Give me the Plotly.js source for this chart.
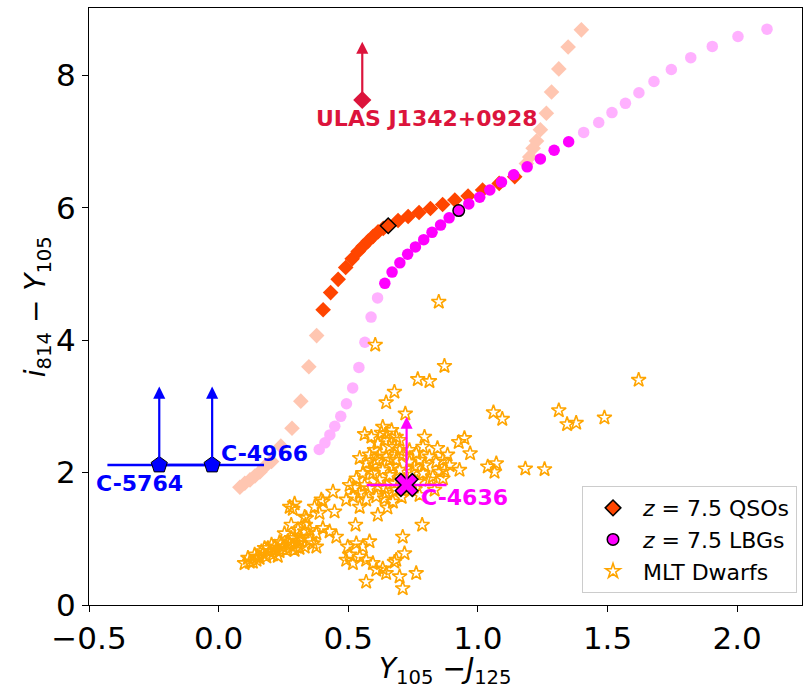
<!DOCTYPE html>
<html>
<head>
<meta charset="utf-8">
<script src="https://cdn.plot.ly/plotly-3.0.1.min.js"></script>
<style>html,body{margin:0;padding:0;background:#fff;}#plot{width:803px;height:694px;}</style>
</head>
<body>
<div id="plot"></div>
<script>
// z=7.5 QSO colour track (faded low-z part, solid part, faded high-z part)
const qsoLowX = [0.082,0.101,0.121,0.140,0.159,0.178,0.204,0.240,0.283,0.317,0.348,0.378];
const qsoLowY = [1.78,1.84,1.89,1.95,2.01,2.09,2.17,2.40,2.67,3.08,3.60,4.07];
const qsoMidX = [0.403,0.432,0.461,0.490,0.515,0.538,0.557,0.577,0.596,0.615,0.635,0.692,0.731,0.773,0.817,0.864,0.911,0.962,1.018,1.082,1.142];
const qsoMidY = [4.46,4.72,4.92,5.10,5.23,5.34,5.42,5.50,5.57,5.64,5.69,5.81,5.87,5.93,5.99,6.05,6.12,6.18,6.27,6.37,6.47];
const qsoHighX = [1.187,1.200,1.213,1.226,1.241,1.264,1.284,1.312,1.348,1.399];
const qsoHighY = [6.67,6.77,6.90,7.01,7.18,7.43,7.75,8.10,8.43,8.69];
const qsoRefX = [0.654], qsoRefY = [5.73];

// z=7.5 LBG colour track
const lbgLowX = [0.388,0.410,0.429,0.448,0.471,0.493,0.517,0.541,0.564,0.588,0.613];
const lbgLowY = [2.35,2.45,2.57,2.70,2.85,3.04,3.28,3.59,3.97,4.35,4.64];
const lbgMidX = [0.641,0.669,0.699,0.729,0.759,0.791,0.823,0.856,0.889,0.965,1.007,1.046,1.091,1.138,1.190,1.241,1.294,1.350];
const lbgMidY = [4.86,5.03,5.17,5.30,5.41,5.52,5.63,5.74,5.85,6.06,6.16,6.27,6.39,6.50,6.62,6.74,6.87,7.00];
const lbgHighX = [1.408,1.466,1.517,1.569,1.621,1.679,1.746,1.821,1.904,2.003,2.115];
const lbgHighY = [7.14,7.29,7.44,7.58,7.74,7.91,8.09,8.27,8.44,8.59,8.70];
const lbgRefX = [0.926], lbgRefY = [5.96];

// MLT dwarfs
const starX = [0.849,0.604,0.871,0.768,0.813,0.678,0.646,0.720,1.060,1.094,1.312,1.344,1.379,1.488,1.620,0.794,0.948,0.926,0.970,0.883,
0.929,1.038,1.071,1.064,1.183,1.257,0.563,0.589,0.633,0.646,0.685,0.614,0.659,0.698,0.569,0.608,0.556,0.531,0.595,0.633,
0.672,0.646,0.685,0.710,0.736,0.762,0.788,0.813,0.839,0.865,0.891,0.852,0.826,0.788,0.756,0.813,0.865,0.492,0.518,0.544,
0.582,0.614,0.569,0.608,0.646,0.672,0.640,0.685,0.544,0.441,0.402,0.370,0.293,0.286,0.601,0.640,0.667,0.698,0.621,0.659,
0.582,0.544,0.582,0.621,0.659,0.698,0.717,0.678,0.640,0.563,0.524,0.736,0.775,0.794,0.744,0.767,0.736,0.706,0.651,0.601,
0.678,0.628,0.844,0.871,0.833,0.775,0.505,0.614,0.528,0.785,0.710,0.717,0.678,0.762,0.698,0.710,0.569,0.608,0.633,0.646,
0.498,0.531,0.556,0.582,0.505,0.544,0.569,0.595,0.492,0.518,0.685,0.389,0.338,0.402,0.428,0.454,0.377,0.351,0.377,0.332,
0.447,0.335,0.274,0.396,0.113,0.139,0.165,0.190,0.216,0.242,0.267,0.293,0.312,0.132,0.158,0.184,0.209,0.235,0.261,0.286,
0.306,0.197,0.171,0.248,0.274,0.222,0.150,0.254,0.306,0.332,0.280,0.332,0.351,0.364,0.177,0.204,0.235,0.281,0.312,0.120,
0.100,0.146,0.228,0.293,0.312];
const starY = [4.58,3.93,3.61,3.41,3.38,3.22,3.06,2.89,2.91,2.81,2.94,2.73,2.75,2.83,3.40,2.54,2.52,2.46,2.29,2.27,
2.04,2.09,2.14,2.01,2.06,2.05,2.58,2.54,2.69,2.59,2.54,2.44,2.39,2.34,2.14,2.19,1.99,1.91,1.99,2.04,
2.09,2.24,2.19,2.27,2.34,2.29,2.39,2.24,2.16,2.19,2.11,2.01,1.94,1.99,2.09,1.89,1.91,1.59,1.64,1.69,
1.76,1.79,1.59,1.64,1.69,1.56,1.61,1.74,1.48,1.71,1.56,1.48,1.53,1.45,2.34,2.49,2.64,2.49,2.27,2.19,
2.27,2.22,2.04,1.89,1.96,2.04,1.89,1.84,1.77,1.81,1.77,2.16,2.19,2.11,2.01,1.86,1.74,1.63,1.47,2.11,
2.39,2.60,2.37,2.04,1.74,1.66,1.81,1.36,1.21,1.21,1.03,0.78,0.65,0.48,0.43,0.25,0.35,0.53,0.55,0.48,
0.88,0.93,0.88,0.96,0.76,0.73,0.68,0.63,0.68,0.63,0.68,1.39,1.31,1.16,1.11,1.03,1.08,0.98,0.88,0.88,
1.41,1.21,1.48,1.59,0.71,0.76,0.81,0.86,0.88,0.93,0.96,1.01,1.03,0.65,0.71,0.73,0.76,0.81,0.83,0.88,
0.93,0.81,0.78,0.88,0.91,0.83,0.73,1.08,1.14,1.33,1.21,1.11,1.13,0.93,0.86,0.91,0.95,1.01,0.97,0.65,
0.63,0.68,0.74,0.83,0.86];

// Observed sources
const ulasX = [0.554], ulasY = [7.63], ulasLimit = [8.51];
const cBlueNames = ['C-5764','C-4966'];
const cBlueX = [-0.229,-0.025], cBlueY = [2.115,2.115], cBlueXerr = [0.2,0.2], cBlueLimit = [3.30,3.30];
const cMagNames = ['C-4636'];
const cMagX = [0.725], cMagY = [1.813], cMagXerr = [0.154], cMagLimit = [2.845];

// Axis titles
const xTitle = '<i>Y</i><sub>105</sub> −<i>J</i><sub>125</sub>';
const yTitle = '<i>i</i><sub>814</sub> − <i>Y</i><sub>105</sub>';

const ORANGE = '#ff4500', MAG = '#ff00ff';
const traces = [
  {x: qsoLowX, y: qsoLowY, mode:'markers', type:'scatter', showlegend:false, opacity:0.3,
   marker:{symbol:'diamond', size:12, color:ORANGE}},
  {x: qsoHighX, y: qsoHighY, mode:'markers', type:'scatter', showlegend:false, opacity:0.3,
   marker:{symbol:'diamond', size:12, color:ORANGE}},
  {x: lbgLowX, y: lbgLowY, mode:'markers', type:'scatter', showlegend:false, opacity:0.3,
   marker:{symbol:'circle', size:11.5, color:MAG}},
  {x: lbgHighX, y: lbgHighY, mode:'markers', type:'scatter', showlegend:false, opacity:0.3,
   marker:{symbol:'circle', size:11.5, color:MAG}},
  {x: qsoMidX, y: qsoMidY, mode:'markers', type:'scatter', showlegend:false,
   marker:{symbol:'diamond', size:12, color:ORANGE}},
  {x: lbgMidX, y: lbgMidY, mode:'markers', type:'scatter', showlegend:false,
   marker:{symbol:'circle', size:11.5, color:MAG}},
  {x: qsoRefX, y: qsoRefY, mode:'markers', type:'scatter', name:'<i>z</i> = 7.5 QSOs', legendrank:1,
   marker:{symbol:'diamond', size:12, color:ORANGE, line:{color:'black', width:1.5}}},
  {x: lbgRefX, y: lbgRefY, mode:'markers', type:'scatter', name:'<i>z</i> = 7.5 LBGs', legendrank:2,
   marker:{symbol:'circle', size:11.5, color:MAG, line:{color:'black', width:1.5}}},
  {x: starX, y: starY, mode:'markers', type:'scatter', name:'MLT Dwarfs', legendrank:3,
   marker:{symbol:'star-open', size:11, color:'orange', line:{color:'orange', width:1.6}}},
  {x: ulasX, y: ulasY, mode:'markers', type:'scatter', showlegend:false,
   marker:{symbol:'diamond', size:14, color:'#dc143c'}},
  {x: cBlueX, y: cBlueY, mode:'markers', type:'scatter', showlegend:false, text:cBlueNames,
   error_x:{type:'data', array:cBlueXerr, color:'#0000ff', thickness:2.5, width:0},
   marker:{symbol:'pentagon', size:17, color:'#0000ff', line:{color:'black', width:1}}},
  {x: cMagX, y: cMagY, mode:'markers', type:'scatter', showlegend:false, text:cMagNames,
   error_x:{type:'data', array:cMagXerr, color:MAG, thickness:2.5, width:0},
   marker:{symbol:'x', size:20, color:MAG, line:{color:'black', width:1.5}}}
];

function limitArrow(x, y0, y1, color){
  return {x:x, y:y1, ax:x, ay:y0, xref:'x', yref:'y', axref:'x', ayref:'y', text:'',
          showarrow:true, arrowhead:2, arrowsize:1.1, arrowwidth:2.2, arrowcolor:color, standoff:0, startstandoff:0};
}
const annotations = [];
ulasX.forEach((x,i)=>annotations.push(limitArrow(x, ulasY[i], ulasLimit[i], '#dc143c')));
cBlueX.forEach((x,i)=>annotations.push(limitArrow(x, cBlueY[i], cBlueLimit[i], '#0000ff')));
cMagX.forEach((x,i)=>annotations.push(limitArrow(x, cMagY[i], cMagLimit[i], MAG)));
const lblFont = (c)=>({family:'DejaVu Sans', size:22, color:c});
annotations.push({x:0.804, y:7.35, xref:'x', yref:'y', text:'<b>ULAS J1342+0928</b>', showarrow:false, font:lblFont('#dc143c')});
annotations.push({x:-0.305, y:1.84, xref:'x', yref:'y', text:'<b>'+cBlueNames[0]+'</b>', showarrow:false, font:lblFont('#0000ff')});
annotations.push({x:0.177, y:2.29, xref:'x', yref:'y', text:'<b>'+cBlueNames[1]+'</b>', showarrow:false, font:lblFont('#0000ff')});
annotations.push({x:0.948, y:1.63, xref:'x', yref:'y', text:'<b>'+cMagNames[0]+'</b>', showarrow:false, font:lblFont(MAG)});
// axis titles as paper-anchored annotations
annotations.push({x:0.5, y:-0.11, xref:'paper', yref:'paper', xanchor:'center', yanchor:'middle',
  text:xTitle, showarrow:false, font:{family:'DejaVu Sans', size:28, color:'black'}});
annotations.push({x:-0.072, y:0.5, xref:'paper', yref:'paper', xanchor:'center', yanchor:'middle', textangle:-90,
  text:yTitle, showarrow:false, font:{family:'DejaVu Sans', size:28, color:'black'}});

const layout = {
  width:803, height:694,
  margin:{l:89, r:1, t:8, b:89},
  paper_bgcolor:'white', plot_bgcolor:'white',
  font:{family:'DejaVu Sans', color:'black'},
  showlegend:true,
  legend:{x:0.993, y:0.02, xanchor:'right', yanchor:'bottom', bgcolor:'rgba(255,255,255,0.8)',
          bordercolor:'#cccccc', borderwidth:1, font:{size:22, family:'DejaVu Sans'}, traceorder:'normal',
          itemwidth:50, tracegroupgap:0},
  xaxis:{range:[-0.5,2.25], tick0:-0.5, dtick:0.5, tickformat:'.1f', showgrid:false, zeroline:false,
         showline:true, linecolor:'black', linewidth:1, mirror:true, ticks:'outside', ticklen:6, tickcolor:'black',
         tickfont:{size:31}},
  yaxis:{range:[0,9.02], tick0:0, dtick:2, showgrid:false, zeroline:false,
         showline:true, linecolor:'black', linewidth:1, mirror:true, ticks:'outside', ticklen:6, tickcolor:'black',
         tickfont:{size:31}},
  annotations: annotations
};
Plotly.newPlot('plot', traces, layout, {displayModeBar:false, staticPlot:true});
</script>
</body>
</html>
